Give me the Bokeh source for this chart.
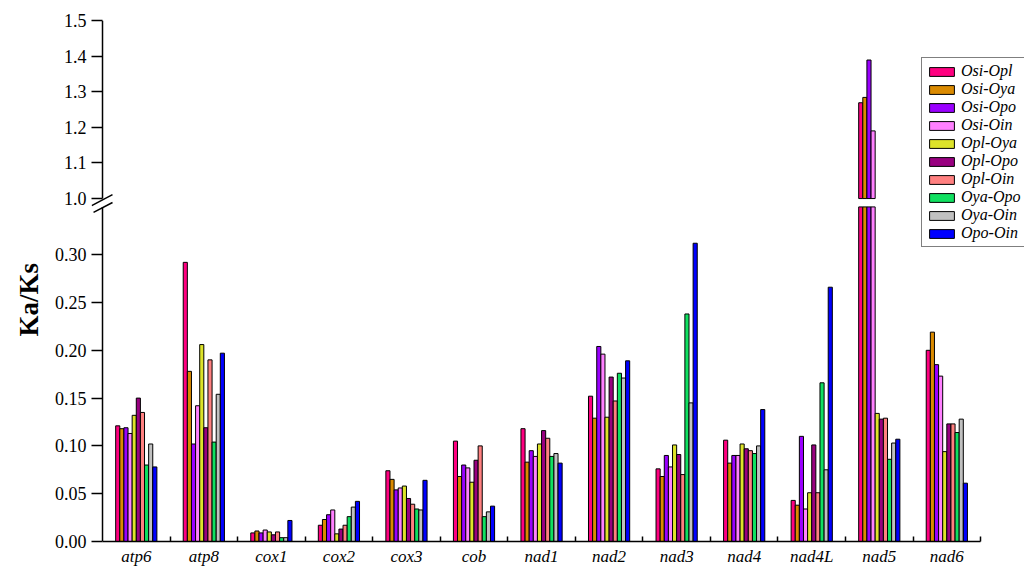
import numpy as np
from bokeh.plotting import figure
from bokeh.models import (Range1d, FixedTicker, CustomJSTickFormatter, Legend, LegendItem,
                          ColumnDataSource, Arrow, Title)
from bokeh.transform import dodge
from bokeh.embed import file_html
from bokeh.resources import INLINE

# ---------------- data ----------------
genes = ["atp6", "atp8", "cox1", "cox2", "cox3", "cob", "nad1",
         "nad2", "nad3", "nad4", "nad4L", "nad5", "nad6"]
pairs = ["Osi-Opl", "Osi-Oya", "Osi-Opo", "Osi-Oin", "Opl-Oya",
         "Opl-Opo", "Opl-Oin", "Oya-Opo", "Oya-Oin", "Opo-Oin"]
colors = ["#FF0080", "#DA8A00", "#9A00FF", "#FF80FF", "#DDE32A",
          "#990080", "#FF8080", "#10E060", "#C0C0C0", "#0000FF"]

osi_opl = [0.121, 0.292, 0.009, 0.017, 0.074, 0.105, 0.118, 0.152, 0.076, 0.106, 0.043, 1.269, 0.200]
osi_oya = [0.118, 0.178, 0.011, 0.023, 0.065, 0.068, 0.083, 0.129, 0.068, 0.082, 0.038, 1.284, 0.219]
osi_opo = [0.119, 0.102, 0.009, 0.028, 0.054, 0.080, 0.095, 0.204, 0.090, 0.090, 0.110, 1.389, 0.185]
osi_oin = [0.113, 0.142, 0.012, 0.033, 0.056, 0.077, 0.089, 0.196, 0.078, 0.090, 0.034, 1.190, 0.173]
opl_oya = [0.132, 0.206, 0.010, 0.008, 0.058, 0.062, 0.102, 0.130, 0.101, 0.102, 0.051, 0.134, 0.094]
opl_opo = [0.150, 0.119, 0.007, 0.013, 0.045, 0.085, 0.116, 0.172, 0.091, 0.097, 0.101, 0.128, 0.123]
opl_oin = [0.135, 0.190, 0.010, 0.017, 0.039, 0.100, 0.108, 0.147, 0.070, 0.095, 0.051, 0.129, 0.123]
oya_opo = [0.080, 0.104, 0.004, 0.026, 0.034, 0.026, 0.089, 0.176, 0.238, 0.092, 0.166, 0.086, 0.114]
oya_oin = [0.102, 0.154, 0.004, 0.036, 0.033, 0.031, 0.092, 0.171, 0.145, 0.100, 0.075, 0.103, 0.128]
opo_oin = [0.078, 0.197, 0.022, 0.042, 0.064, 0.037, 0.082, 0.189, 0.312, 0.138, 0.266, 0.107, 0.061]
series = [osi_opl, osi_oya, osi_opo, osi_oin, opl_oya, opl_opo, opl_oin, oya_opo, oya_oin, opo_oin]

lower_ticks = [0.0, 0.05, 0.10, 0.15, 0.20, 0.25, 0.30]
upper_ticks = [1.0, 1.1, 1.2, 1.3, 1.4, 1.5]

# ---------------- layout constants (broken axis) ----------------
LOW_CAP = 0.35      # top of lower segment
UP_BASE = 1.0       # bottom of upper segment
UP_END = 1.5
LOW_END = 0.545     # lower range end (frame top in lower units)
UP_START = 0.037    # upper range start (frame bottom in upper units)
BW = 0.061
X_START = -0.163    # a little room left of the spine for ticks / break marks
X_END = 13.65

SERIF = "Liberation Serif"

p = figure(width=1024, height=574, output_backend="svg", toolbar_location=None,
           x_range=Range1d(X_START, X_END), y_range=Range1d(0, LOW_END),
           min_border_left=91, min_border_right=0, min_border_top=20, min_border_bottom=33)
p.extra_y_ranges = {"upper": Range1d(UP_START, UP_END)}
p.xgrid.visible = False
p.ygrid.visible = False
p.outline_line_color = None
p.background_fill_color = "white"

centers = np.arange(len(genes)) + 0.5
items = []
for i, (name, vals, col) in enumerate(zip(pairs, series, colors)):
    v = np.array(vals, dtype=float)
    src = ColumnDataSource(dict(x=centers,
                                top_low=np.minimum(v, LOW_CAP),
                                top_up=np.where(v > UP_BASE, v, np.nan)))
    off = (i - 4.5) * BW
    r = p.vbar(x=dodge("x", off, range=p.x_range), width=BW, bottom=0, top="top_low",
               source=src, fill_color=col, line_color="black", line_width=1)
    p.vbar(x=dodge("x", off, range=p.x_range), width=BW, bottom=UP_BASE, top="top_up",
           source=src, fill_color=col, line_color="black", line_width=1, y_range_name="upper")
    items.append(LegendItem(label=name, renderers=[r]))

# x axis
xa = p.xaxis[0]
xa.ticker = FixedTicker(ticks=list(centers), minor_ticks=list(range(1, len(genes) + 1)))
xa.formatter = CustomJSTickFormatter(args=dict(names=genes), code="return names[Math.floor(tick)];")
xa.bounds = (0, len(genes))
xa.major_tick_in = 0
xa.major_tick_out = 0
xa.minor_tick_in = 5
xa.minor_tick_out = 0
xa.minor_tick_line_width = 1.5
xa.minor_tick_line_color = "black"
xa.axis_line_width = 1.5
xa.axis_line_color = "black"
xa.major_label_text_font = SERIF
xa.major_label_text_font_style = "italic"
xa.major_label_text_font_size = "17px"
xa.major_label_text_color = "black"
xa.major_label_standoff = 5

# y axis (single axis carrying both segments)
upper_pos = [(t - UP_START) / (UP_END - UP_START) * LOW_END for t in upper_ticks]
ya = p.yaxis[0]
ya.ticker = FixedTicker(ticks=lower_ticks + upper_pos, minor_ticks=[])
ya.formatter = CustomJSTickFormatter(
    args=dict(cap=LOW_CAP, low_end=LOW_END, up_start=UP_START, up_end=UP_END),
    code="""
    if (tick > cap) {
        const v = tick / low_end * (up_end - up_start) + up_start;
        return v.toFixed(1);
    }
    return tick.toFixed(2);
    """)
ya.axis_line_color = None
ya.major_tick_in = 11
ya.major_tick_out = 0
ya.major_tick_line_width = 1.5
ya.major_tick_line_color = "black"
ya.minor_tick_line_color = None
ya.major_label_text_font = SERIF
ya.major_label_text_font_size = "18px"
ya.major_label_text_color = "black"
ya.major_label_standoff = 5

# y axis title, anchored from the bottom so it sits beside the lower segment
ytitle = Title(text="Ka/Ks", align="left", offset=205,
               text_font=SERIF, text_font_style="bold", text_font_size="27px",
               text_color="black", standoff=16)
p.add_layout(ytitle, "left")

# spine segments and break marks
p.add_layout(Arrow(x_start=0, y_start=0, x_end=0, y_end=LOW_CAP, end=None,
                   line_color="black", line_width=1.5))
p.add_layout(Arrow(x_start=0, y_start=UP_BASE, x_end=0, y_end=UP_END, end=None,
                   line_color="black", line_width=1.5, y_range_name="upper"))
p.add_layout(Arrow(x_start=-0.160, y_start=0.980, x_end=0.148, y_end=1.011, end=None,
                   line_color="black", line_width=1.5, y_range_name="upper"))
p.add_layout(Arrow(x_start=-0.133, y_start=0.961, x_end=0.148, y_end=0.989, end=None,
                   line_color="black", line_width=1.5, y_range_name="upper"))

legend = Legend(items=items, location=(830, 294))
legend.label_text_font = SERIF
legend.label_text_font_style = "italic"
legend.label_text_font_size = "16px"
legend.label_text_color = "black"
legend.glyph_width = 31
legend.glyph_height = 11
legend.label_height = 18
legend.label_standoff = 4
legend.spacing = 0
legend.padding = 4
legend.margin = 0
legend.border_line_color = "black"
legend.border_line_width = 1
legend.background_fill_color = "white"
legend.background_fill_alpha = 1
p.add_layout(legend)

open("out.html", "w").write(file_html(p, INLINE))
